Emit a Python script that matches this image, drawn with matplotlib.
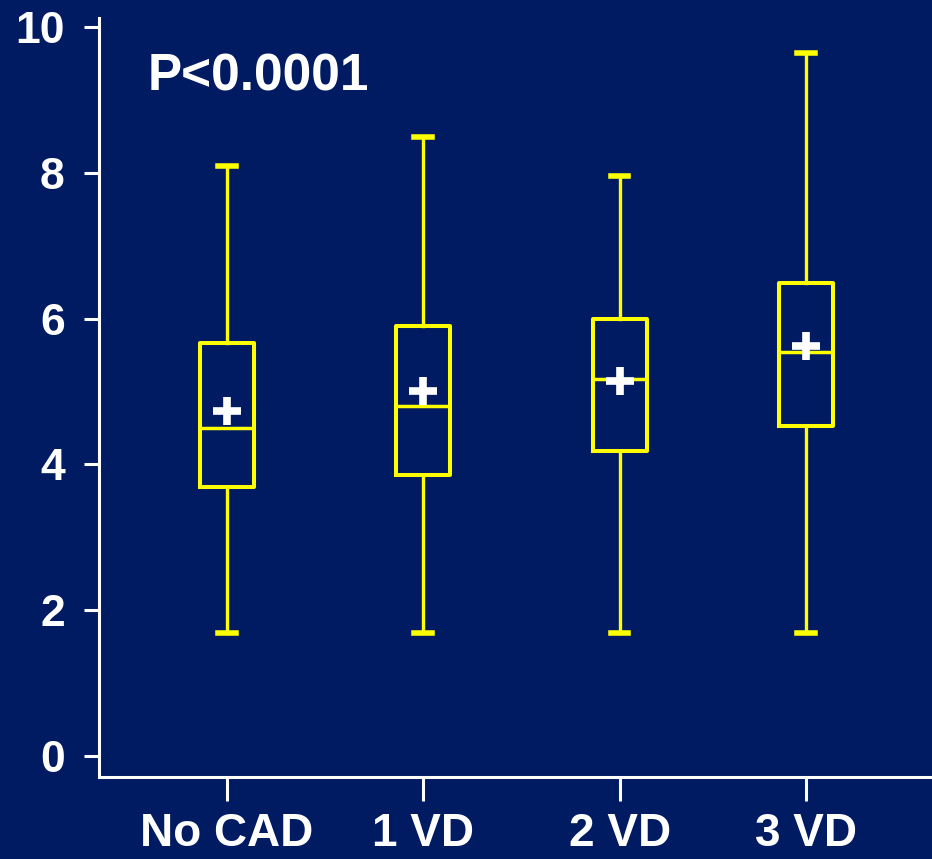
import matplotlib
matplotlib.use("Agg")
import matplotlib.pyplot as plt

# --- Data ---
groups = ["No CAD", "1 VD", "2 VD", "3 VD"]
x_pos = [1.0, 2.0, 3.0, 3.95]
whisker_low = [1.69, 1.69, 1.69, 1.69]
q1 = [3.69, 3.85, 4.18, 4.52]
median = [4.50, 4.80, 5.17, 5.54]
q3 = [5.67, 5.90, 6.00, 6.49]
whisker_high = [8.10, 8.49, 7.96, 9.64]
mean = [4.73, 5.00, 5.15, 5.63]
y_ticks = [0, 2, 4, 6, 8, 10]
p_text = "P<0.0001"

BG = "#011B63"
YELLOW = "#FFFF00"

plt.rcParams['font.family'] = ['Liberation Sans', 'DejaVu Sans']
plt.rcParams['font.weight'] = 'bold'

fig = plt.figure(figsize=(9.32, 8.59), dpi=100, facecolor=BG)
# axes run off the right edge of the figure, like the reference
ax = fig.add_axes([0.1066, 0.0955, 0.95, 0.884])
ax.set_facecolor(BG)

stats = []
for i, name in enumerate(groups):
    stats.append({
        'label': name,
        'whislo': whisker_low[i],
        'q1': q1[i],
        'med': median[i],
        'q3': q3[i],
        'whishi': whisker_high[i],
        'mean': mean[i],
        'fliers': [],
    })

ax.bxp(stats, positions=x_pos, widths=0.275, capwidths=0.09,
       showmeans=True, showfliers=False,
       boxprops=dict(color=YELLOW, linewidth=2.9),
       medianprops=dict(color=YELLOW, linewidth=2.5),
       whiskerprops=dict(color=YELLOW, linewidth=2.4),
       capprops=dict(color=YELLOW, linewidth=4.0),
       meanprops=dict(marker='+', markersize=20, markeredgewidth=5.5,
                      markeredgecolor='white', markerfacecolor='white'))

ax.set_xlim(0.35, 4.86)
ax.set_ylim(-0.29, 10.13)
ax.set_yticks(y_ticks)
ax.set_yticklabels([str(t) for t in y_ticks])
ax.set_xticks(x_pos)
ax.set_xticklabels(groups)

for side in ['top', 'right']:
    ax.spines[side].set_visible(False)
for side in ['left', 'bottom']:
    ax.spines[side].set_color('white')
    ax.spines[side].set_linewidth(2.2)

ax.tick_params(axis='y', colors='white', labelsize=32, length=11, width=2.2, pad=14)
ax.tick_params(axis='x', colors='white', labelsize=33, length=17, width=2.2, pad=8)

ax.text(0.055, 0.922, p_text, transform=ax.transAxes, color='white',
        fontsize=37, fontweight='bold', va='center', ha='left')

plt.savefig('out.png', dpi=100, facecolor=BG)
plt.close()
